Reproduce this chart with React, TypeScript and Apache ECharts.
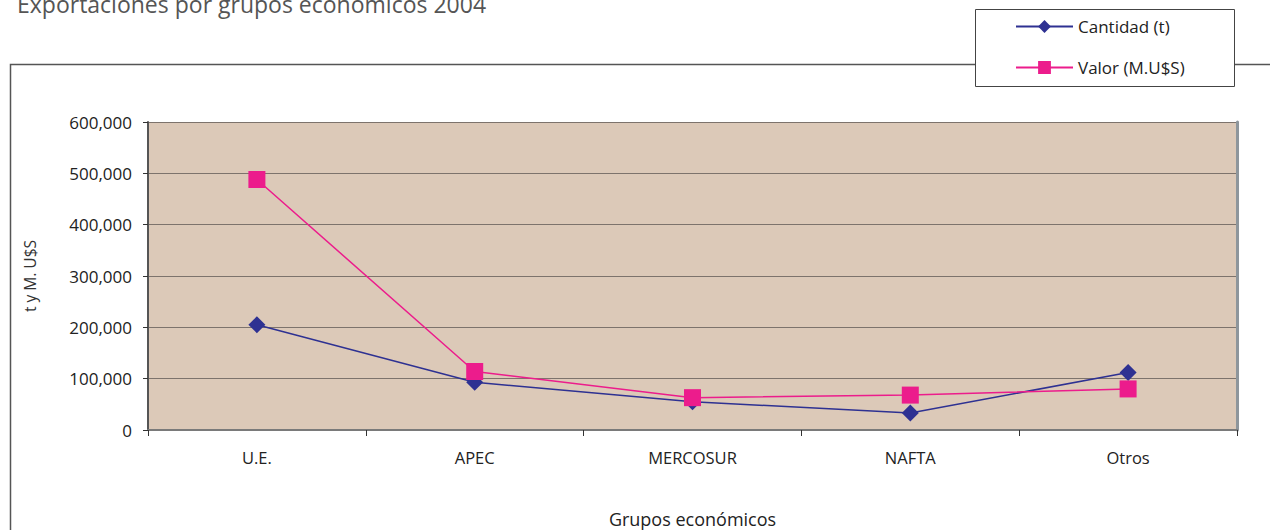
import React, { useEffect, useRef } from "react";
import * as echarts from "echarts";

const categories = ["U.E.", "APEC", "MERCOSUR", "NAFTA", "Otros"];
const cantidad = [205000, 93000, 55000, 33000, 112000];
const valor = [488000, 114000, 63000, 68000, 80000];
const yTicks = [0, 100000, 200000, 300000, 400000, 500000, 600000];

const FONT = "'Open Sans', 'Noto Sans', sans-serif";

export default function App() {
  const ref = useRef<HTMLDivElement>(null);
  useEffect(() => {
    if (!ref.current) return;
    const chart = echarts.init(ref.current, undefined, { renderer: "svg" });
    chart.setOption({
      animation: false,
      backgroundColor: "#ffffff",
      textStyle: { fontFamily: FONT },
      graphic: [
        {
          type: "text",
          left: 17,
          top: -8,
          style: {
            text: "Exportaciones por grupos económicos 2004",
            fontSize: 23,
            fontFamily: FONT,
            fill: "#555555",
          },
        },
        {
          type: "rect",
          shape: { x: 10.5, y: 64.5, width: 1300, height: 520 },
          style: { fill: "none", stroke: "#555555", lineWidth: 1.5 },
          z: 0,
        },
        {
          type: "rect",
          shape: { x: 975.5, y: 9.5, width: 259, height: 77 },
          style: { fill: "#ffffff", stroke: "#444444", lineWidth: 1 },
          z: 1,
        },
      ],
      legend: {
        orient: "vertical",
        left: 1010,
        top: 13,
        itemWidth: 57,
        itemHeight: 16,
        itemGap: 24,
        textStyle: { fontSize: 17, lineHeight: 16, color: "#222", fontFamily: FONT },
        data: ["Cantidad (t)", "Valor (M.U$S)"],
        z: 5,
      },
      grid: {
        left: 148,
        top: 122,
        width: 1089,
        height: 308,
        show: true,
        backgroundColor: "#DCC9B8",
        borderWidth: 0,
        outerBoundsMode: "none",
        containLabel: false,
      },
      xAxis: {
        type: "category",
        data: categories,
        boundaryGap: true,
        name: "Grupos económicos",
        nameLocation: "middle",
        nameGap: 80,
        nameTextStyle: { fontSize: 18, color: "#222", fontFamily: FONT },
        axisLine: { lineStyle: { color: "#7a7a7a", width: 2 } },
        axisTick: { show: true, length: 6, lineStyle: { color: "#333" } },
        axisLabel: { fontSize: 16.5, color: "#222", margin: 19, fontFamily: FONT },
      },
      yAxis: [
        {
          type: "value",
          min: 0,
          max: 600000,
          interval: 100000,
          name: "t y M. U$S",
          nameLocation: "middle",
          nameGap: 110,
          nameTextStyle: { fontSize: 15.5, color: "#333", fontFamily: FONT },
          axisLine: { show: true, lineStyle: { color: "#555", width: 2 } },
          axisTick: { show: true, length: 5, lineStyle: { color: "#333" } },
          axisLabel: {
            fontSize: 17,
            color: "#222",
            margin: 16,
            fontFamily: FONT,
            formatter: (v: number) => (yTicks.includes(v) ? v.toLocaleString("en-US") : ""),
          },
          splitLine: { show: true, lineStyle: { color: "#7d736c", width: 1 } },
        },
        {
          type: "value",
          min: 0,
          max: 600000,
          interval: 100000,
          position: "right",
          axisLine: { show: true, lineStyle: { color: "#8E969C", width: 3 } },
          axisTick: { show: false },
          axisLabel: { show: false },
          splitLine: { show: false },
        },
      ],
      series: [
        {
          name: "Cantidad (t)",
          type: "line",
          data: cantidad,
          symbol: "diamond",
          symbolSize: 17,
          lineStyle: { color: "#2E3192", width: 1.5 },
          itemStyle: { color: "#2E3192" },
          z: 3,
        },
        {
          name: "Valor (M.U$S)",
          type: "line",
          data: valor,
          symbol: "rect",
          symbolSize: 17,
          lineStyle: { color: "#EC1C8C", width: 1.5 },
          itemStyle: { color: "#EC1C8C" },
          z: 4,
        },
      ],
    });
    return () => chart.dispose();
  }, []);
  return <div ref={ref} style={{ width: 1270, height: 530, position: "absolute", left: 0, top: 0 }} />;
}
